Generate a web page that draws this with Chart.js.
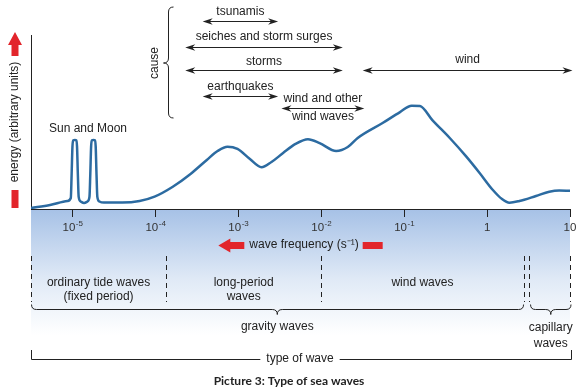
<!DOCTYPE html>
<html>
<head>
<meta charset="utf-8">
<script src="https://cdn.jsdelivr.net/npm/chart.js@4"></script>
<style>
  html, body { margin: 0; padding: 0; background: #fff; }
  canvas { display: block; }
</style>
</head>
<body>
<canvas id="waves" width="583" height="390"></canvas>
<script>
// Energy spectrum of sea waves.
// x = log10(wave frequency in s^-1), y = energy in arbitrary units (0-100)
const logFreq = [
  -5.50, -5.27, -5.06, -5.02, -5.01, -5.00, -4.99, -4.97, -4.955, -4.945,
  -4.935, -4.925, -4.90, -4.86, -4.82, -4.795, -4.785, -4.775, -4.765, -4.745,
  -4.73, -4.72, -4.71, -4.70, -4.675, -4.62, -4.40, -4.19, -4.01, -3.79,
  -3.58, -3.38, -3.25, -3.13, -3.01, -2.86, -2.72, -2.60, -2.46, -2.31,
  -2.16, -2.02, -1.82, -1.68, -1.56, -1.26, -1.05, -0.91, -0.81, -0.66,
  -0.45, -0.25, -0.09, 0.07, 0.18, 0.27, 0.39, 0.59, 0.75, 0.87, 1.00
];
const energy = [
  0.6, 2.3, 4.6, 6.3, 20, 36, 39.5, 39.7, 39.5, 36,
  20, 7, 4.3, 3.4, 4.3, 7, 20, 36, 39.5, 39.7,
  39.5, 36, 20, 7, 4.3, 3.7, 3.7, 4.6, 7.1, 12.8,
  20, 28.2, 33.3, 35.8, 34.5, 28.7, 24.0, 27.0, 32.2, 37.4,
  40.1, 37.9, 33.3, 35.6, 40.8, 49.4, 55.7, 59.4, 59.2, 51.1,
  40.8, 30.1, 20.7, 10.9, 5.7, 3.6, 4.6, 7.5, 9.9, 10.6, 10.5
];

// tick labels: base and exponent ('' = no exponent)
const tickPowers = [-5, -4, -3, -2, -1, 0, 1];
const tickBase   = ['10', '10', '10', '10', '10', '1', '10'];
const tickExp    = ['-5', '-4', '-3', '-2', '-1', '', ''];

// causes: frequency ranges (log10) covered by each cause
const causeNames = ['tsunamis', 'seiches and storm surges', 'storms', 'wind', 'earthquakes', 'wind and other|wind waves'];
const causeFrom  = [-3.43, -3.64, -3.64, -1.50, -3.43, -2.48];
const causeTo    = [-2.52, -1.74, -1.74,  1.03, -2.52, -1.48];

// wave type boundaries (log10 frequency)
const waveBounds = [-5.5, -3.87, -2.0, 0.44, 0.50, 1.0];
const waveTypes  = ['ordinary tide waves|(fixed period)', 'long-period|waves', 'wind waves'];

const FONT = '"Liberation Sans", Arial, Helvetica, sans-serif';
const INK = '#222';
const RED = '#e2252b';
const CURVE = '#2c6ba1';

function head(ctx, x, y, dir) {
  ctx.beginPath();
  ctx.moveTo(x, y);
  ctx.lineTo(x - dir * 10, y - 3.2);
  ctx.lineTo(x - dir * 7, y);
  ctx.lineTo(x - dir * 10, y + 3.2);
  ctx.closePath();
  ctx.fill();
}

function doubleArrow(ctx, x1, x2, y) {
  ctx.beginPath();
  ctx.moveTo(x1 + 5, y);
  ctx.lineTo(x2 - 5, y);
  ctx.stroke();
  head(ctx, x1, y, -1);
  head(ctx, x2, y, 1);
}

function hBrace(ctx, x1, x2, y, xm) {
  const r = 5;
  ctx.beginPath();
  ctx.moveTo(x1, y - r);
  ctx.quadraticCurveTo(x1, y, x1 + r, y);
  ctx.lineTo(xm - r, y);
  ctx.quadraticCurveTo(xm, y, xm, y + r);
  ctx.quadraticCurveTo(xm, y, xm + r, y);
  ctx.lineTo(x2 - r, y);
  ctx.quadraticCurveTo(x2, y, x2, y - r);
  ctx.stroke();
}

function vBrace(ctx, x, y1, y2, ym) {
  const r = 5;
  ctx.beginPath();
  ctx.moveTo(x + r, y1);
  ctx.quadraticCurveTo(x, y1, x, y1 + r);
  ctx.lineTo(x, ym - r);
  ctx.quadraticCurveTo(x, ym, x - r, ym);
  ctx.quadraticCurveTo(x, ym, x, ym + r);
  ctx.lineTo(x, y2 - r);
  ctx.quadraticCurveTo(x, y2, x + r, y2);
  ctx.stroke();
}

function lines(ctx, text, x, y, gap) {
  text.split('|').forEach((t, i) => ctx.fillText(t, x, y + i * gap));
}

const decor = {
  id: 'decor',
  beforeDraw(chart) {
    const { ctx, chartArea: { left, right, bottom } } = chart;
    ctx.save();
    ctx.fillStyle = '#fff';
    ctx.fillRect(0, 0, chart.width, chart.height);
    // blue band under the frequency axis
    const g = ctx.createLinearGradient(0, bottom, 0, 335);
    g.addColorStop(0, '#a6c1e6');
    g.addColorStop(0.55, '#dfe9f6');
    g.addColorStop(1, '#ffffff');
    ctx.fillStyle = g;
    ctx.fillRect(left, bottom, right - left, 335 - bottom);
    ctx.restore();
  },
  afterDraw(chart) {
    const { ctx } = chart;
    const xs = chart.scales.x;
    const px = v => xs.getPixelForValue(v);
    ctx.save();
    ctx.fillStyle = INK;
    ctx.strokeStyle = INK;
    ctx.lineWidth = 1;
    ctx.textBaseline = 'middle';

    // tick labels with real superscripts, at the scale's tick positions
    ctx.textAlign = 'left';
    xs.ticks.forEach((t, i) => {
      const k = tickPowers.indexOf(t.value);
      ctx.font = '11.5px ' + FONT;
      const bw = ctx.measureText(tickBase[k]).width;
      ctx.font = '8px ' + FONT;
      const ew = tickExp[k] ? ctx.measureText(tickExp[k]).width : 0;
      const x0 = xs.getPixelForTick(i) - (bw + ew) / 2;
      ctx.fillStyle = '#333';
      ctx.font = '11.5px ' + FONT;
      ctx.fillText(tickBase[k], x0, 228);
      if (tickExp[k]) {
        ctx.font = '8px ' + FONT;
        ctx.fillText(tickExp[k], x0 + bw + 0.5, 224);
      }
    });
    ctx.fillStyle = INK;
    ctx.textAlign = 'center';
    ctx.font = '12px ' + FONT;

    // y-axis title with red arrow
    ctx.save();
    ctx.translate(15, 122);
    ctx.rotate(-Math.PI / 2);
    ctx.fillText('energy (arbitrary units)', 0, 0);
    ctx.restore();
    ctx.fillStyle = RED;
    ctx.beginPath();
    ctx.moveTo(15, 32);
    ctx.lineTo(22, 45);
    ctx.lineTo(18.5, 45);
    ctx.lineTo(18.5, 56);
    ctx.lineTo(11.5, 56);
    ctx.lineTo(11.5, 45);
    ctx.lineTo(8, 45);
    ctx.closePath();
    ctx.fill();
    ctx.fillRect(11.5, 190, 7, 18);

    // x-axis title with red arrow
    const xt = 'wave frequency (s\u207B\u00B9)';
    ctx.fillStyle = INK;
    ctx.fillText(xt, 304, 245);
    const w = ctx.measureText(xt).width;
    const tl = 304 - w / 2 - 5, tr = 304 + w / 2 + 4;
    ctx.fillStyle = RED;
    ctx.beginPath();
    ctx.moveTo(tl - 26, 245.5);
    ctx.lineTo(tl - 14, 238.5);
    ctx.lineTo(tl - 14, 242);
    ctx.lineTo(tl, 242);
    ctx.lineTo(tl, 249);
    ctx.lineTo(tl - 14, 249);
    ctx.lineTo(tl - 14, 252.5);
    ctx.closePath();
    ctx.fill();
    ctx.fillRect(tr, 242, 20, 7);

    // wave type boundaries
    ctx.fillStyle = INK;
    ctx.setLineDash([5, 4]);
    waveBounds.forEach(b => {
      ctx.beginPath();
      ctx.moveTo(Math.round(px(b)) + 0.5, 256);
      ctx.lineTo(Math.round(px(b)) + 0.5, 302);
      ctx.stroke();
    });
    ctx.setLineDash([]);
    waveTypes.forEach((t, i) => {
      const cx = (px(waveBounds[i]) + px(waveBounds[i + 1])) / 2;
      lines(ctx, t, cx, 283, 14);
    });

    // gravity / capillary braces
    const gx1 = px(waveBounds[0]), gx2 = px(waveBounds[3]);
    hBrace(ctx, gx1 + 0.5, gx2, 309.5, (gx1 + gx2) / 2);
    ctx.fillText('gravity waves', (gx1 + gx2) / 2, 327);
    const cx1 = px(waveBounds[4]) + 2, cx2 = px(waveBounds[5]) + 1;
    hBrace(ctx, cx1, cx2, 309.5, (cx1 + cx2) / 2);
    lines(ctx, 'capillary|waves', (cx1 + cx2) / 2, 328, 16);

    // type of wave bracket
    const tw = ctx.measureText('type of wave').width;
    const tx1 = px(waveBounds[0]) + 0.5, tx2 = px(waveBounds[5]) + 1.5;
    ctx.fillText('type of wave', 300, 359);
    ctx.beginPath();
    ctx.moveTo(tx1, 350);
    ctx.lineTo(tx1, 359.5);
    ctx.lineTo(300 - tw / 2 - 6, 359.5);
    ctx.moveTo(300 + tw / 2 + 6, 359.5);
    ctx.lineTo(tx2, 359.5);
    ctx.lineTo(tx2, 350);
    ctx.stroke();

    // causes
    const rows = [[12, 21.5], [37, 47.5], [62, 70.5], [60, 70.5], [87, 96.5], [99, 108.5]];
    causeNames.forEach((name, i) => {
      const x1 = px(causeFrom[i]), x2 = px(causeTo[i]);
      lines(ctx, name, (x1 + x2) / 2, rows[i][0], 18);
      doubleArrow(ctx, x1, x2, rows[i][1]);
    });
    vBrace(ctx, 168.5, 7, 118, 63);
    ctx.save();
    ctx.translate(155, 63);
    ctx.rotate(-Math.PI / 2);
    ctx.fillText('cause', 0, 0);
    ctx.restore();

    ctx.fillText('Sun and Moon', 88, 129);

    ctx.font = 'bold 12px Lato, ' + FONT;
    ctx.fillText('Picture 3: Type of sea waves', 289, 381);
    ctx.restore();
  }
};

new Chart(document.getElementById('waves'), {
  type: 'line',
  data: {
    datasets: [{
      data: logFreq.map((x, i) => ({ x, y: energy[i] })),
      borderColor: CURVE,
      borderWidth: 2.5,
      pointRadius: 0,
      fill: false,
      cubicInterpolationMode: 'monotone',
    }],
  },
  options: {
    responsive: false,
    animation: false,
    devicePixelRatio: 1,
    layout: { padding: { left: 31, right: 13, top: 35, bottom: 0 } },
    plugins: { legend: { display: false }, tooltip: { enabled: false } },
    scales: {
      x: {
        type: 'linear',
        min: -5.5,
        max: 1,
        afterBuildTicks: scale => { scale.ticks = tickPowers.map(v => ({ value: v })); },
        afterFit: scale => { scale.height = 181; },
        ticks: { display: false },
        grid: { drawOnChartArea: false, tickLength: 8, color: INK },
        border: { color: INK, width: 1 },
      },
      y: {
        min: 0,
        max: 100,
        afterFit: scale => { scale.width = 0; },
        ticks: { display: false },
        grid: { display: false },
        border: { color: INK, width: 1 },
      },
    },
  },
  plugins: [decor],
});
</script>
</body>
</html>
